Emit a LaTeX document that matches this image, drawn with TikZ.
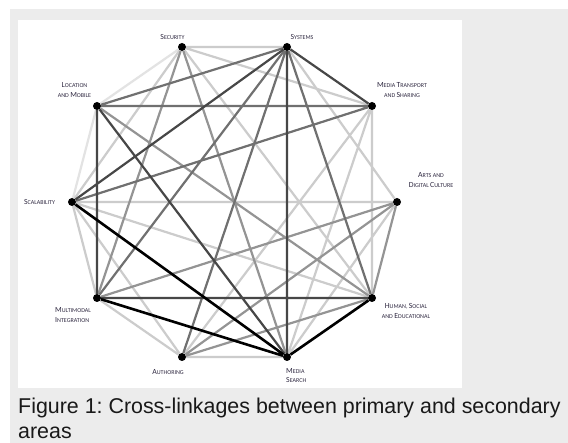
\documentclass[tikz,border=0pt]{standalone}
\usepackage{fontspec}
\usepackage{xcolor}
\newfontfamily\lblfont{Carlito}
\newfontfamily\capfont{Liberation Sans}
\definecolor{lblcol}{RGB}{48,42,66}
\definecolor{bggray}{RGB}{236,236,236}
\newcommand{\sck}[2]{{\fontsize{7.8}{9.5}\selectfont #1}{\fontsize{6}{9.5}\selectfont #2}}
\frenchspacing

\begin{document}
\begin{tikzpicture}[x=1pt,y=-1pt]
  \tikzstyle{dot}=[circle,fill=black,inner sep=0pt,minimum size=8pt]
  \tikzstyle{area}=[text=lblcol,font=\lblfont\fontsize{6}{9.5}\selectfont,align=center,inner sep=0pt]
  \tikzstyle{caption}=[anchor=base west,inner sep=0pt,text=black!90,font=\capfont\fontsize{21.4}{25}\selectfont]
  \tikzstyle{l1}=[line width=2.6pt,black]
  \tikzstyle{l2}=[line width=2.2pt,black!72]
  \tikzstyle{l3}=[line width=2.2pt,black!56]
  \tikzstyle{l4}=[line width=2.2pt,black!42]
  \tikzstyle{l5}=[line width=2.2pt,black!20]
  \tikzstyle{l6}=[line width=2.2pt,black!11]

  % background
  \fill[white] (0,0) rectangle (568,443);
  \fill[bggray] (10,9) rectangle (568,443);
  \fill[white] (18,20) rectangle (462,388);
  \useasboundingbox (0,0) rectangle (568,443);

  % areas
  \node[dot] (sec) at (182,47) {};
  \node[dot] (sys) at (287,47) {};
  \node[dot] (trans) at (372,106) {};
  \node[dot] (arts) at (397,202) {};
  \node[dot] (human) at (372,298) {};
  \node[dot] (search) at (287,357) {};
  \node[dot] (auth) at (182,357) {};
  \node[dot] (multi) at (97,298) {};
  \node[dot] (scal) at (72,202) {};
  \node[dot] (loc) at (97,106) {};

  \node[area] (secl) at (172.5,37.5) {\sck{S}{ECURITY}};
  \node[area] (sysl) at (302,37.5) {\sck{S}{YSTEMS}};
  \node[area] (transl) at (402,90) {\sck{M}{EDIA }\sck{T}{RANSPORT}\\\sck{}{AND }\sck{S}{HARING}};
  \node[area] (artsl) at (431,180) {\sck{A}{RTS AND}\\\sck{D}{IGITAL }\sck{C}{ULTURE}};
  \node[area] (humanl) at (406,311) {\sck{H}{UMAN, }\sck{S}{OCIAL}\\\sck{}{AND }\sck{E}{DUCATIONAL}};
  \node[area,anchor=west,align=left] (searchl) at (286,375.5) {\sck{M}{EDIA}\\\sck{S}{EARCH}};
  \node[area] (authl) at (168,372.5) {\sck{A}{UTHORING}};
  \node[area,anchor=west,align=left] (multil) at (55,315) {\sck{M}{ULTIMODAL}\\\sck{I}{NTEGRATION}};
  \node[area] (scall) at (39.5,202) {\sck{S}{CALABILITY}};
  \node[area] (locl) at (74.5,90) {\sck{L}{OCATION}\\\sck{}{AND }\sck{M}{OBILE}};

  % links, lightest first
  \draw[l6] (sec) -- (loc) (loc) -- (scal);
  \draw[l5] (sec) -- (sys) (sec) -- (trans) (sec) -- (human) (sec) -- (scal)
    (sys) -- (arts) (trans) -- (auth) (trans) -- (search) (trans) -- (human)
    (scal) -- (arts) (scal) -- (human) (scal) -- (auth) (scal) -- (multi)
    (arts) -- (search) (auth) -- (search) (auth) -- (multi);
  \draw[l4] (arts) -- (multi) (arts) -- (auth) (arts) -- (human) (human) -- (auth)
    (loc) -- (human) (sec) -- (search) (sec) -- (multi);
  \draw[l3] (sys) -- (human) (sys) -- (loc) (sys) -- (multi) (sys) -- (auth)
    (loc) -- (trans) (trans) -- (scal);
  \draw[l2] (sys) -- (search) (sys) -- (trans) (loc) -- (multi) (multi) -- (human)
    (loc) -- (search) (sys) -- (scal);
  \draw[l1] (scal) -- (search) (multi) -- (search) (human) -- (search);

  \node[caption] (cap) at (18,414) {Figure 1: Cross-linkages between primary and secondary};
  \node[caption] (cap2) at (18,439) {areas};
\end{tikzpicture}
\end{document}
